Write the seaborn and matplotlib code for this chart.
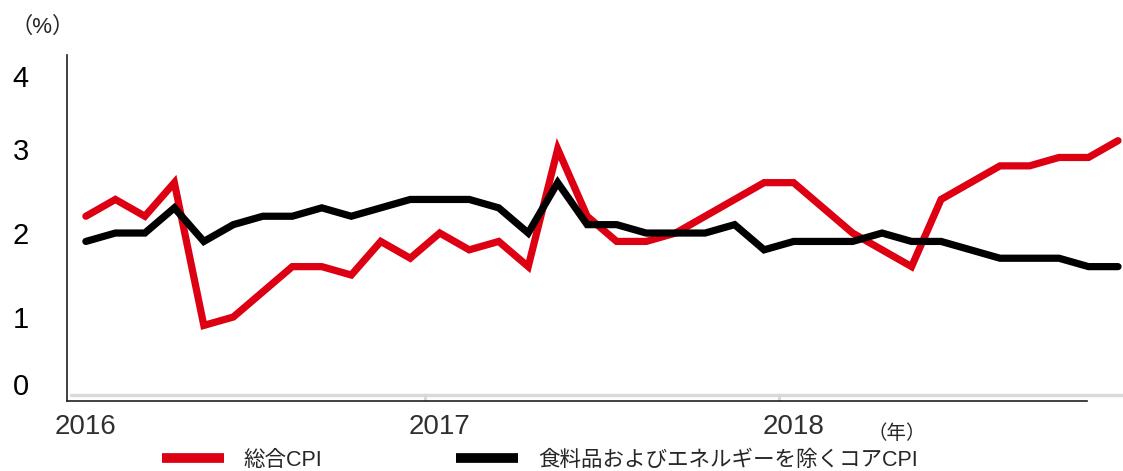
import numpy as np
import pandas as pd
import matplotlib
matplotlib.use("Agg")
import matplotlib.pyplot as plt
import seaborn as sns

# data (monthly, Jan 2016 - Dec 2018)
years = ["2016", "2017", "2018"]
headline_cpi = [2.2, 2.4, 2.2, 2.6, 0.9, 1.0, 1.3, 1.6, 1.6, 1.5, 1.9, 1.7,
                2.0, 1.8, 1.9, 1.6, 3.0, 2.2, 1.9, 1.9, 2.0, 2.2, 2.4, 2.6,
                2.6, 2.3, 2.0, 1.8, 1.6, 2.4, 2.6, 2.8, 2.8, 2.9, 2.9, 3.1]
core_cpi = [1.9, 2.0, 2.0, 2.3, 1.9, 2.1, 2.2, 2.2, 2.3, 2.2, 2.3, 2.4,
            2.4, 2.4, 2.3, 2.0, 2.6, 2.1, 2.1, 2.0, 2.0, 2.0, 2.1, 1.8,
            1.9, 1.9, 1.9, 2.0, 1.9, 1.9, 1.8, 1.7, 1.7, 1.7, 1.6, 1.6]
y_ticks = [0, 1, 2, 3, 4]

LABEL_HEADLINE = "総合CPI"
LABEL_CORE = "食料品およびエネルギーを除くコアCPI"
RED = "#DC0012"

sns.set_theme(style="white")
plt.rcParams["font.family"] = ["Liberation Sans", "Noto Sans CJK JP", "DejaVu Sans"]

df = pd.DataFrame({
    "month": np.arange(len(headline_cpi)),
    "headline": headline_cpi,
    "core": core_cpi,
})

fig = plt.figure(figsize=(11.23, 4.71), dpi=100)
ax = fig.add_axes([67 / 1123, 70 / 471, 1 - 67 / 1123, 346 / 471])

sns.lineplot(data=df, x="month", y="headline", ax=ax, color=RED,
             linewidth=5.2, label=LABEL_HEADLINE, solid_joinstyle="miter",
             clip_on=False)
sns.lineplot(data=df, x="month", y="core", ax=ax, color="black",
             linewidth=5.2, label=LABEL_CORE, solid_joinstyle="miter",
             clip_on=False)

# light grey baseline with year separators
ax.axhline(0.07, xmin=0.004, color="#DADADA", linewidth=2.5, zorder=0)
ax.set_xticks([11.5, 23.5], minor=True)
ax.tick_params(axis="x", which="minor", direction="in", length=5,
               width=2, color="#D6D6D6", bottom=True)

ax.set_xlim(-0.64, 35.17)
ax.set_ylim(0, 4.12)
ax.set_xticks([0, 12, 24])
ax.set_xticklabels(years)
ax.set_yticks(y_ticks)
ax.set_yticklabels([str(v) for v in y_ticks])
ax.tick_params(axis="x", which="major", length=0, pad=9, labelsize=20,
               labelcolor="#303030")
# y labels sit near the left edge of the figure
ax.tick_params(axis="y", length=0, pad=39, labelsize=21, labelcolor="black")
ylabels = ax.get_yticklabels()
for lab in ylabels:
    lab.set_horizontalalignment("left")
ylabels[0].set_verticalalignment("bottom")
ylabels[-1].set_verticalalignment("top")

ax.set_xlabel("")
ax.set_ylabel("")
ax.spines[["top", "right"]].set_visible(False)
ax.spines["left"].set_color("#202020")
ax.spines["left"].set_linewidth(1.2)
ax.spines["bottom"].set_color("#202020")
ax.spines["bottom"].set_linewidth(1.2)
ax.spines["bottom"].set_bounds(-0.64, 33.95)

fig.text(43 / 1123, 1 - 27 / 471, "（%）", ha="center", va="center",
         fontsize=16)
fig.text(897 / 1123, 1 - 434 / 471, "（年）", ha="center", va="center",
         fontsize=14)

ax.legend_.remove()
handles, labels = ax.get_legend_handles_labels()
leg = fig.legend(handles, labels, loc="center left",
                 bbox_to_anchor=(162 / 1123, 1 - 460 / 471), ncol=2,
                 frameon=False, fontsize=15.5, handlelength=2.9,
                 handletextpad=0.9, columnspacing=6.2, borderpad=0,
                 borderaxespad=0)
for line in leg.get_lines():
    line.set_linewidth(7)
    line.set_solid_capstyle("butt")

fig.savefig("out.png", dpi=100)
